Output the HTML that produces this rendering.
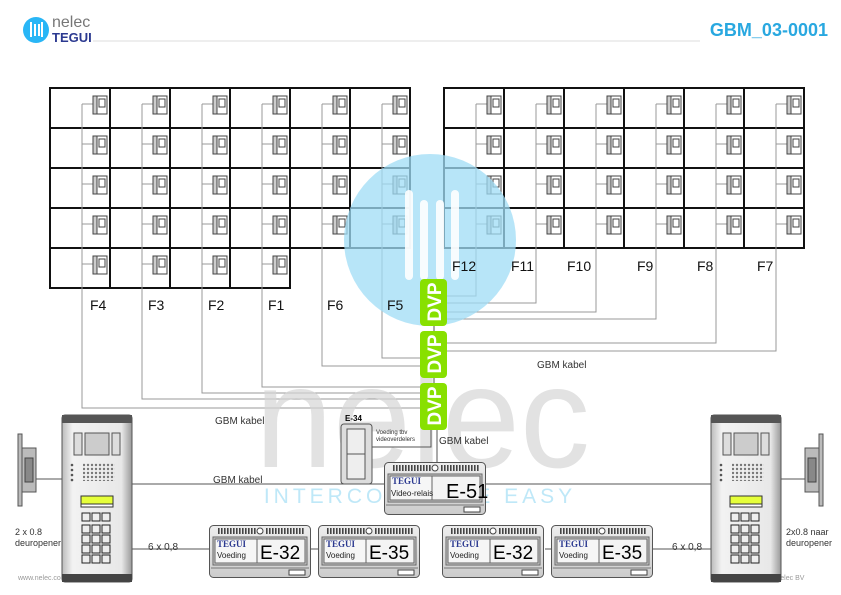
<!DOCTYPE html>
<html><head><meta charset="utf-8"><style>
html,body{margin:0;padding:0;background:#fff}
svg{display:block;font-family:"Liberation Sans",sans-serif}
</style></head><body>
<svg id="s" width="841" height="595" viewBox="0 0 841 595" xmlns="http://www.w3.org/2000/svg">
<defs>
<linearGradient id="pg" x1="0" x2="1"><stop offset="0" stop-color="#bbb"/><stop offset=".15" stop-color="#f2f2f2"/><stop offset=".85" stop-color="#e8e8e8"/><stop offset="1" stop-color="#999"/></linearGradient>
<linearGradient id="mg" x1="0" y1="0" x2="0" y2="1"><stop offset="0" stop-color="#eee"/><stop offset="1" stop-color="#ccc"/></linearGradient>
<pattern id="dots" width="4" height="4" patternUnits="userSpaceOnUse"><circle cx="2" cy="2" r="1.2" fill="#777"/></pattern>
<pattern id="bars" width="3" height="6" patternUnits="userSpaceOnUse"><rect x="0" y="0" width="1.6" height="6" fill="#444"/></pattern>
<symbol id="mod" viewBox="0 0 102 53" overflow="visible">
<rect x="0.5" y="0.5" width="101" height="52" rx="4" fill="url(#mg)" stroke="#555"/>
<rect x="8" y="3" width="40" height="6" fill="url(#bars)"/><circle cx="51" cy="6" r="3" fill="#fff" stroke="#444"/><rect x="56" y="3" width="40" height="6" fill="url(#bars)"/>
<rect x="4" y="12" width="94" height="28" fill="#ccc" stroke="#666"/>
<rect x="6" y="14" width="42" height="24" fill="#f6f6f6" stroke="#666"/>
<rect x="48" y="14" width="48" height="24" fill="#f4f4f4" stroke="#666"/>
<line x1="2" y1="43" x2="100" y2="43" stroke="#777"/>
<rect x="80" y="45" width="16" height="5" fill="#fff" stroke="#444"/>
</symbol>
<symbol id="panel" viewBox="0 0 70 167" overflow="visible">
<rect x="0" y="0" width="70" height="167" rx="3" fill="url(#pg)" stroke="#555"/>
<rect x="0" y="0" width="70" height="8" fill="#555"/>
<rect x="0" y="159" width="70" height="8" fill="#444"/>
<rect x="12" y="18" width="8" height="22" fill="#ddd" stroke="#555"/><rect x="23" y="18" width="24" height="22" fill="#ccc" stroke="#555"/><rect x="50" y="18" width="8" height="22" fill="#ddd" stroke="#555"/>
<rect x="21" y="48" width="32" height="18" fill="url(#dots)"/>
<circle cx="10" cy="50" r="1.3" fill="#555"/><circle cx="10" cy="55" r="1.3" fill="#555"/><circle cx="10" cy="60" r="1.3" fill="#555"/><circle cx="10" cy="65" r="1.3" fill="#555"/>
<rect x="19" y="81" width="32" height="8" fill="#e6ff3a" stroke="#333"/><rect x="19" y="89" width="32" height="3" fill="#fff" stroke="#333"/>
<g fill="#eee" stroke="#222"><rect x="20" y="98" width="8" height="8"/><rect x="30" y="98" width="8" height="8"/><rect x="40" y="98" width="8" height="8"/>
<rect x="20" y="110" width="8" height="8"/><rect x="30" y="110" width="8" height="8"/><rect x="40" y="110" width="8" height="8"/>
<rect x="20" y="120" width="8" height="8"/><rect x="30" y="120" width="8" height="8"/><rect x="40" y="120" width="8" height="8"/>
<rect x="20" y="130" width="8" height="8"/><rect x="30" y="130" width="8" height="8"/><rect x="40" y="130" width="8" height="8"/>
<rect x="20" y="140" width="8" height="8"/><rect x="30" y="140" width="8" height="8"/><rect x="40" y="140" width="8" height="8"/></g>
</symbol>
<symbol id="opener" viewBox="0 0 18 72" overflow="visible">
<rect x="0" y="0" width="4" height="72" fill="#bbb" stroke="#555"/>
<rect x="4" y="14" width="14" height="44" fill="#bbb" stroke="#555"/>
<rect x="7" y="24" width="8" height="24" fill="#888" stroke="#444"/>
</symbol>
</defs>
<circle cx="36" cy="30" r="13" fill="#29b6f6"/>
<g stroke="#fff" stroke-width="2"><line x1="31" y1="22" x2="31" y2="37"/><line x1="35" y1="24" x2="35" y2="36"/><line x1="39" y1="24" x2="39" y2="36"/><line x1="42" y1="22" x2="42" y2="37"/></g>
<text x="52" y="27" font-size="16" fill="#777">nelec</text>
<text x="52" y="42" font-size="13" font-weight="bold" fill="#2b3990">TEGUI</text>
<line x1="93" y1="41" x2="700" y2="41" stroke="#ddd"/>
<text x="828" y="36" font-size="18" font-weight="bold" fill="#29a8e0" text-anchor="end">GBM_03-0001</text>
<g id="grid"></g>
<g id="wires" fill="none" stroke="#999" stroke-width="1"></g>
<circle cx="430" cy="240" r="86" fill="#9fdcf6" opacity="0.75"/>
<g fill="#fff" opacity="0.9"><rect x="405" y="190" width="8" height="90" rx="4"/><rect x="420" y="200" width="8" height="80" rx="4"/><rect x="436" y="200" width="8" height="80" rx="4"/><rect x="451" y="190" width="8" height="90" rx="4"/></g>
<text x="255" y="467" font-size="145" fill="#d6d6d6" opacity="0.7" textLength="335" lengthAdjust="spacingAndGlyphs">nelec</text>
<text x="420" y="503" font-size="21" fill="#bfe8f8" letter-spacing="4" text-anchor="middle">INTERCOM MADE EASY</text>
<g font-size="14" fill="#111">
<text x="90" y="310">F4</text><text x="148" y="310">F3</text><text x="208" y="310">F2</text><text x="268" y="310">F1</text><text x="327" y="310">F6</text><text x="387" y="310">F5</text>
<text x="452" y="271">F12</text><text x="511" y="271">F11</text><text x="567" y="271">F10</text><text x="637" y="271">F9</text><text x="697" y="271">F8</text><text x="757" y="271">F7</text>
</g>
<g fill="#88e000"><rect x="420" y="279" width="27" height="47" rx="4"/><rect x="420" y="331" width="27" height="47" rx="4"/><rect x="420" y="383" width="27" height="47" rx="4"/></g>
<g font-size="19" font-weight="bold" fill="#fff" text-anchor="middle">
<text transform="translate(441,302) rotate(-90)">DVP</text>
<text transform="translate(441,354) rotate(-90)">DVP</text>
<text transform="translate(441,406) rotate(-90)">DVP</text></g>
<g stroke="#555" fill="none">
<line x1="434" y1="326" x2="434" y2="331"/><line x1="434" y1="378" x2="434" y2="383"/>
<line x1="437" y1="430" x2="437" y2="465"/>
<polyline points="431,430 431,447 372,447"/>
<line x1="132" y1="484" x2="384" y2="484"/><line x1="486" y1="484" x2="711" y2="484"/>
<line x1="132" y1="549" x2="209" y2="549"/><line x1="311" y1="549" x2="318" y2="549"/><line x1="545" y1="549" x2="551" y2="549"/><line x1="653" y1="549" x2="711" y2="549"/>
<line x1="36" y1="479" x2="62" y2="479"/><line x1="781" y1="479" x2="805" y2="479"/>
</g>
<g font-size="10" fill="#333">
<text x="215" y="424">GBM kabel</text><text x="537" y="368">GBM kabel</text><text x="439" y="444">GBM kabel</text><text x="213" y="483">GBM kabel</text>
<text x="148" y="550">6 x 0,8</text><text x="672" y="550">6 x 0,8</text>
<text x="15" y="535" font-size="9">2 x 0.8</text><text x="15" y="546" font-size="9">deuropener</text>
<text x="786" y="535" font-size="9">2x0.8 naar</text><text x="786" y="546" font-size="9">deuropener</text>
<text x="18" y="580" font-size="7" fill="#999">www.nelec.co</text><text x="762" y="580" font-size="7" fill="#999">ight Nelec BV</text>
</g>
<rect x="341" y="424" width="31" height="60" rx="3" fill="#ddd" stroke="#555"/><rect x="347" y="429" width="18" height="50" fill="#eee" stroke="#555"/><line x1="347" y1="454" x2="365" y2="454" stroke="#555"/>
<text x="345" y="421" font-size="8" font-weight="bold">E-34</text>
<text x="376" y="434" font-size="6" fill="#333">Voeding tbv</text><text x="376" y="441" font-size="6" fill="#333">videoverdelers</text>
<use href="#mod" x="384" y="462" width="102" height="53"/>
<use href="#mod" x="209" y="525" width="102" height="53"/>
<use href="#mod" x="318" y="525" width="102" height="53"/>
<use href="#mod" x="442" y="525" width="102" height="53"/>
<use href="#mod" x="551" y="525" width="102" height="53"/>
<g font-size="8">
<text x="392" y="484" font-family="Liberation Serif" font-weight="bold" fill="#2b3990" font-size="9">TEGUI</text><text x="391" y="496" fill="#222">Video-relais</text><text x="446" y="498" font-size="20">E-51</text>
<text x="217" y="547" font-family="Liberation Serif" font-weight="bold" fill="#2b3990" font-size="9">TEGUI</text><text x="217" y="558" fill="#222">Voeding</text><text x="260" y="559" font-size="19">E-32</text>
<text x="326" y="547" font-family="Liberation Serif" font-weight="bold" fill="#2b3990" font-size="9">TEGUI</text><text x="326" y="558" fill="#222">Voeding</text><text x="369" y="559" font-size="19">E-35</text>
<text x="450" y="547" font-family="Liberation Serif" font-weight="bold" fill="#2b3990" font-size="9">TEGUI</text><text x="450" y="558" fill="#222">Voeding</text><text x="493" y="559" font-size="19">E-32</text>
<text x="559" y="547" font-family="Liberation Serif" font-weight="bold" fill="#2b3990" font-size="9">TEGUI</text><text x="559" y="558" fill="#222">Voeding</text><text x="602" y="559" font-size="19">E-35</text>
</g>
<use href="#panel" x="62" y="415" width="70" height="167"/>
<use href="#panel" x="711" y="415" width="70" height="167"/>
<use href="#opener" x="18" y="434" width="18" height="72"/>
<g transform="translate(823,434) scale(-1,1)"><use href="#opener" width="18" height="72"/></g>
</svg>
<script>
var NS="http://www.w3.org/2000/svg",g=document.getElementById("grid"),w=document.getElementById("wires");
function el(p,t,a){var e=document.createElementNS(NS,t);for(var k in a)e.setAttribute(k,a[k]);p.appendChild(e);return e;}
function cell(x,y){el(g,"rect",{x:x,y:y,width:60,height:40,fill:"#fff",stroke:"#111","stroke-width":2});
el(g,"line",{x1:x+32,y1:y+16,x2:x+43,y2:y+16,stroke:"#999"});
el(g,"rect",{x:x+43,y:y+8,width:14,height:18,fill:"#fff",stroke:"#444"});
el(g,"rect",{x:x+43,y:y+8,width:4,height:18,fill:"#ccc",stroke:"#444"});
el(g,"rect",{x:x+49,y:y+11,width:6,height:8,fill:"#fff",stroke:"#444"});}
for(var r=0;r<5;r++)for(var c=0;c<6;c++){if(r==4&&c>3)continue;cell(50+60*c,88+40*r);}
for(var r=0;r<4;r++)for(var c=0;c<6;c++)cell(444+60*c,88+40*r);
var L=[[82,408],[142,399],[202,393],[262,387],[322,366],[382,358]];
L.forEach(function(p){el(w,"polyline",{points:p[0]+",104 "+p[0]+","+p[1]+" 420,"+p[1]});});
var R=[[476,296],[536,303],[596,312],[656,319],[716,343],[776,351]];
R.forEach(function(p){el(w,"polyline",{points:p[0]+",104 "+p[0]+","+p[1]+" 447,"+p[1]});});
</script>
</body></html>
